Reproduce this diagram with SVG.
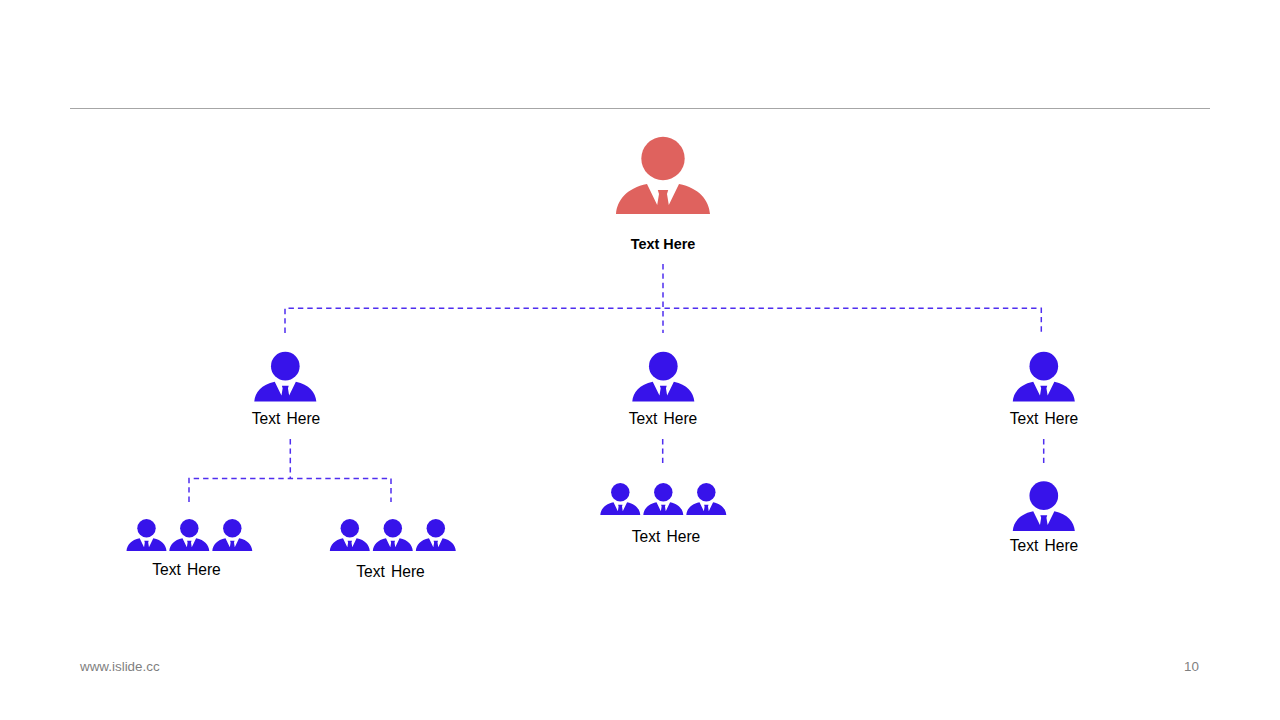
<svg xmlns="http://www.w3.org/2000/svg" width="1280" height="720" viewBox="0 0 1280 720">
<style>
text{font-family:"Liberation Sans",Arial,sans-serif;fill:#000}
.lbl{font-size:15.6px;text-anchor:middle;word-spacing:1.8px}
.b{fill:#3713EA}
.r{fill:#DF625E}
.d{fill:none;stroke:#4F2EEF;stroke-width:1.5;stroke-dasharray:5.4 4}
.f{font-size:13.4px;fill:#7F7F7F}
</style>
<defs>
<path id="body" d="M-47,0C-46,-14 -36,-26 -16,-30L-5.8,-9L-4,-20L-5.2,-24H5.2L4,-20L5.8,-9L16,-30C36,-26 46,-14 47,0Z"/>
<g id="p"><circle cx="0" cy="-55.500" r="21.700"/><use href="#body"/></g>
<g id="m"><circle cx="0" cy="-53.500" r="21.700"/><use href="#body"/></g>
<g id="s"><circle cx="0" cy="-53.500" r="21.700"/><use href="#body"/></g>
</defs>
<rect width="1280" height="720" fill="#fff"/>
<line x1="70" y1="108.500" x2="1210" y2="108.500" stroke="#A6A6A6" stroke-width="1"/>
<g id="connectors">
<path class="d" d="M663,264V333"/>
<path class="d" d="M285,333V308.300H1041.300V333"/>
<path class="d" d="M290.300,439V478"/>
<path class="d" d="M189,502V478.500H391V502"/>
<path class="d" d="M662.700,439V463"/>
<path class="d" d="M1043.700,439V463"/>
</g>
<g id="root" class="r"><use href="#p" transform="translate(663 214)"/><text x="663" y="249" font-size="14.400" font-weight="700" text-anchor="middle">Text Here</text></g>
<g id="n1" class="b"><use href="#m" transform="translate(285.300 401.500) scale(.66)"/><text class="lbl" x="286" y="424">Text Here</text></g>
<g id="n2" class="b"><use href="#m" transform="translate(663.300 401.500) scale(.66)"/><text class="lbl" x="663" y="424">Text Here</text></g>
<g id="n3" class="b"><use href="#m" transform="translate(1043.800 401.500) scale(.66)"/><text class="lbl" x="1044" y="424">Text Here</text></g>
<g id="n4" class="b"><use href="#s" transform="translate(146.500 551) scale(.425)"/><use href="#s" transform="translate(189.300 551) scale(.425)"/><use href="#s" transform="translate(232.300 551) scale(.425)"/><text class="lbl" x="186.500" y="575">Text Here</text></g>
<g id="n5" class="b"><use href="#s" transform="translate(349.800 551) scale(.425)"/><use href="#s" transform="translate(392.800 551) scale(.425)"/><use href="#s" transform="translate(435.800 551) scale(.425)"/><text class="lbl" x="390.500" y="577">Text Here</text></g>
<g id="n6" class="b"><use href="#s" transform="translate(620.300 515) scale(.425)"/><use href="#s" transform="translate(663.300 515) scale(.425)"/><use href="#s" transform="translate(706.300 515) scale(.425)"/><text class="lbl" x="666" y="542">Text Here</text></g>
<g id="n7" class="b"><use href="#m" transform="translate(1043.800 531) scale(.66)"/><text class="lbl" x="1044" y="551">Text Here</text></g>
<text class="f" x="80" y="671">www.islide.cc</text>
<text class="f" x="1199" y="671" text-anchor="end">10</text>
</svg>
